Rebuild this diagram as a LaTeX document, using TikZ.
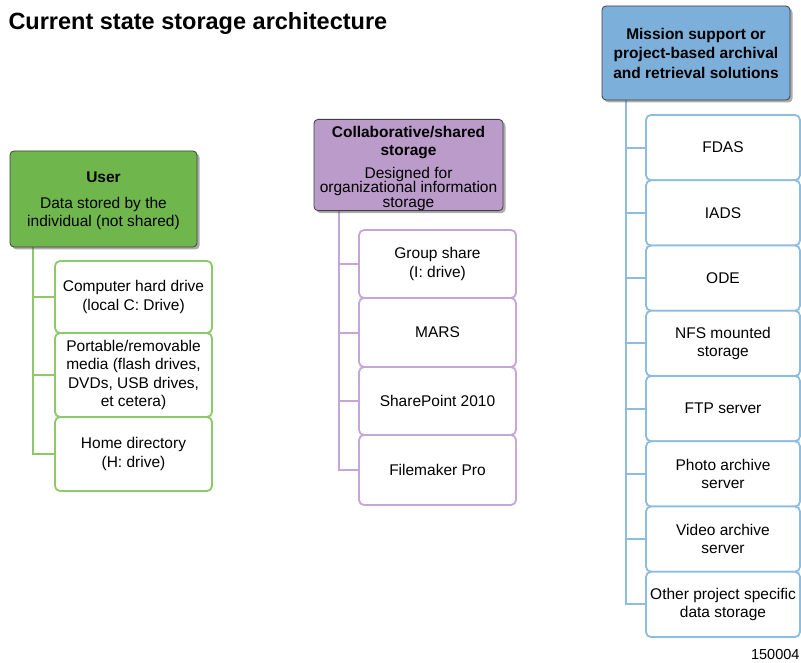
\documentclass[tikz,border=0pt]{standalone}
\usepackage{fontspec}
\setmainfont{Liberation Sans}
\usetikzlibrary{shadows}
\definecolor{gfill}{HTML}{6FB74C}
\definecolor{gline}{HTML}{8CC96B}
\definecolor{pfill}{HTML}{BB9BCA}
\definecolor{pline}{HTML}{C6A6D4}
\definecolor{bfill}{HTML}{7CAFD9}
\definecolor{bline}{HTML}{8DBCE1}
\pgfdeclarelayer{bg}
\pgfsetlayers{bg,main}
\tikzset{
  hdr/.style={draw=black!75, line width=0.8pt, rounded corners=4pt, inner sep=0pt, align=center,
    font=\fontsize{15.5}{18.5}\selectfont,
    drop shadow={shadow xshift=2.5pt, shadow yshift=-2.5pt, fill=black!65}},
  item/.style={draw, line width=1.8pt, rounded corners=5pt, fill=white, inner sep=0pt, align=center,
    font=\fontsize{15.5}{18.5}\selectfont},
  tree/.style={line width=2pt},
}
\begin{document}
\begin{tikzpicture}[x=1pt,y=-1pt]
\useasboundingbox (0,0) rectangle (801,663);
\node[anchor=base west, font=\fontsize{23.5}{28}\selectfont\bfseries] (title) at (5,30) {Current state storage architecture};

% ---- User (green)
\node[hdr, fill=gfill, minimum width=187pt, minimum height=96pt] (gh) at (103.5,199)
  {\rule{0pt}{14pt}\textbf{User}\\[7.5pt]Data stored by the\\individual (not shared)};
\node[item, draw=gline, minimum width=157pt, minimum height=72pt] (g1) at (133.5,297) {Computer hard drive\\(local C: Drive)};
\node[item, draw=gline, minimum width=157pt, minimum height=84pt] (g2) at (133.5,375) {Portable/removable\\media (flash drives,\\DVDs, USB drives,\\et cetera)};
\node[item, draw=gline, minimum width=157pt, minimum height=74pt] (g3) at (133.5,454) {Home directory\\(H: drive)};

% ---- Collaborative (purple)
\node[hdr, fill=pfill, minimum width=189pt, minimum height=90pt] (ph) at (408.5,165)
  {\rule{0pt}{18pt}\textbf{Collaborative/shared}\\\textbf{storage}\\[4pt]Designed for\\[-4pt]organizational information\\[-4pt]storage};
\node[item, draw=pline, minimum width=157pt, minimum height=68pt] (p1) at (437.5,264) {Group share\\(I: drive)};
\node[item, draw=pline, minimum width=157pt, minimum height=69pt] (p2) at (437.5,332.5) {MARS};
\node[item, draw=pline, minimum width=157pt, minimum height=68pt] (p3) at (437.5,401) {SharePoint 2010};
\node[item, draw=pline, minimum width=157pt, minimum height=70pt] (p4) at (437.5,470) {Filemaker Pro};

% ---- Mission support (blue)
\node[hdr, fill=bfill, minimum width=188pt, minimum height=94pt] (bh) at (696,53)
  {\textbf{Mission support or}\\[1pt]\textbf{project-based archival}\\[1pt]\textbf{and retrieval solutions}};
\node[item, draw=bline, minimum width=154pt, minimum height=65.25pt] (b1) at (723,147.6) {FDAS};
\node[item, draw=bline, minimum width=154pt, minimum height=65.25pt] (b2) at (723,212.9) {IADS};
\node[item, draw=bline, minimum width=154pt, minimum height=65.25pt] (b3) at (723,278.1) {ODE};
\node[item, draw=bline, minimum width=154pt, minimum height=65.25pt] (b4) at (723,343.4) {NFS mounted\\storage};
\node[item, draw=bline, minimum width=154pt, minimum height=65.25pt] (b5) at (723,408.6) {FTP server};
\node[item, draw=bline, minimum width=154pt, minimum height=65.25pt] (b6) at (723,473.9) {Photo archive\\server};
\node[item, draw=bline, minimum width=154pt, minimum height=65.25pt] (b7) at (723,539.1) {Video archive\\server};
\node[item, draw=bline, minimum width=154pt, minimum height=65.25pt] (b8) at (723,604.4) {Other project specific\\data storage};

\node[anchor=base east, font=\fontsize{14.5}{17}\selectfont] (num) at (803,659) {150004};

\begin{pgfonlayer}{bg}
\foreach \c in {g1,g2,g3} \draw[tree, gline] ([xshift=23pt]gh.south west) |- (\c.west);
\foreach \c in {p1,p2,p3,p4} \draw[tree, pline] ([xshift=25pt]ph.south west) |- (\c.west);
\foreach \c in {b1,b2,b3,b4,b5,b6,b7,b8} \draw[tree, bline] ([xshift=24pt]bh.south west) |- (\c.west);
\end{pgfonlayer}
\end{tikzpicture}
\end{document}
